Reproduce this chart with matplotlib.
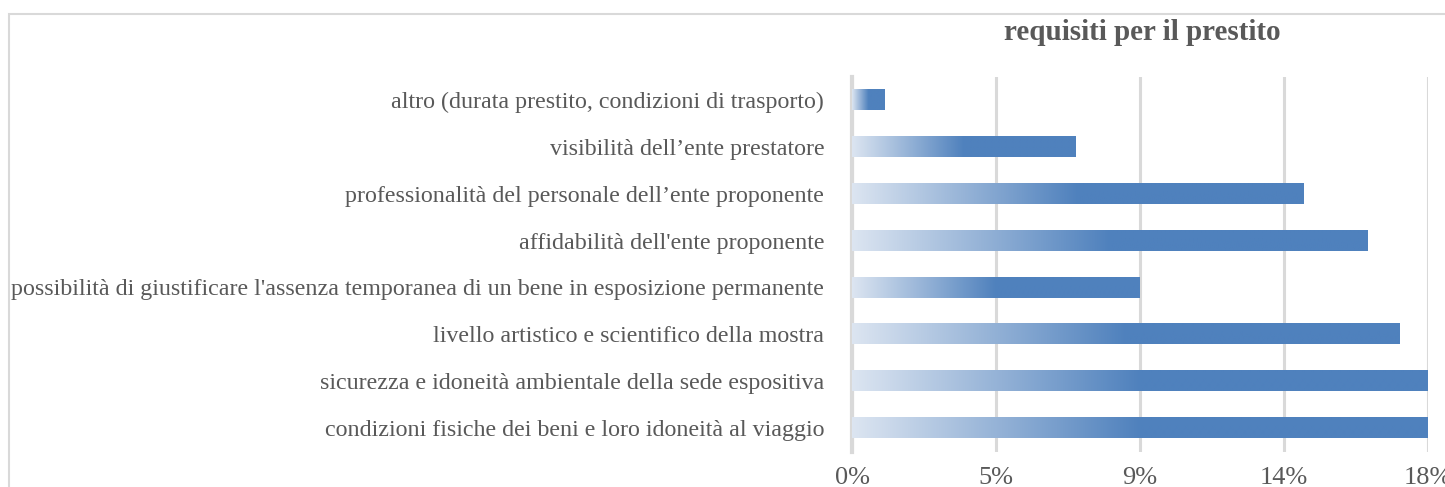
import numpy as np
import matplotlib
matplotlib.use("Agg")
import matplotlib.pyplot as plt
from matplotlib.colors import LinearSegmentedColormap
from matplotlib.patches import Rectangle
from matplotlib.ticker import FuncFormatter

categories = [
    "condizioni fisiche dei beni e loro idoneità al viaggio",
    "sicurezza e idoneità ambientale della sede espositiva",
    "livello artistico e scientifico della mostra",
    "possibilità di giustificare l'assenza temporanea di un bene in esposizione permanente",
    "affidabilità dell'ente proponente",
    "professionalità del personale dell\u2019ente proponente",
    "visibilità dell\u2019ente prestatore",
    "altro (durata prestito, condizioni di trasporto)",
]
values = [0.18, 0.18, 0.171, 0.090, 0.161, 0.141, 0.070, 0.0103]
xticks = [0, 0.045, 0.09, 0.135, 0.18]
title = "requisiti per il prestito"

W, H = 1445, 487
fig = plt.figure(figsize=(W / 100, H / 100), dpi=100)
plt.rcParams['font.family'] = ['Liberation Serif', 'DejaVu Serif']

# outer chart border (partially cut off)
fig.patches.append(Rectangle((9 / W, -0.1), 1.2, (H - 14) / H + 0.1,
                             transform=fig.transFigure, fill=False,
                             edgecolor="#D9D9D9", linewidth=1.5))

top, bottom = 76.5, 451.5
ax = fig.add_axes([852 / W, (H - bottom) / H, (1428 - 852) / W, (bottom - top) / H])

cmap = LinearSegmentedColormap.from_list(
    "g", [(0.0, "#DCE5F1"), (0.5, "#4F81BD"), (1.0, "#4F81BD")])
grad = np.linspace(0, 1, 256).reshape(1, -1)
bh = 0.43
for i, v in enumerate(values):
    ax.imshow(grad, cmap=cmap, aspect="auto",
              extent=(0, v, i - bh / 2, i + bh / 2), zorder=3,
              interpolation="bilinear")
ax.set_xlim(0, 0.18)
ax.set_ylim(-0.5, len(categories) - 0.5)

ax.set_yticks(range(len(categories)))
ax.set_yticklabels(categories, fontsize=17.25, color="#595959")
ax.set_xticks(xticks)
ax.xaxis.set_major_formatter(
    FuncFormatter(lambda x, p: f"{int(np.floor(x * 100 + 0.5 + 1e-9))}%"))
ax.tick_params(axis="x", labelsize=19, colors="#595959", length=0, pad=11)
ax.tick_params(axis="y", length=0, pad=20)
ax.grid(axis="x", color="#D9D9D9", linewidth=2.2, zorder=0)
ax.set_axisbelow(True)
for s in ["top", "right", "bottom"]:
    ax.spines[s].set_visible(False)
ax.spines["left"].set_color("#D9D9D9")
ax.spines["left"].set_linewidth(3)
ax.spines["left"].set_zorder(1)

fig.text(1142 / W, (H - 32) / H, title, ha="center", va="center",
         fontsize=21, fontweight="bold", color="#595959")

fig.savefig("out.png", dpi=100)
